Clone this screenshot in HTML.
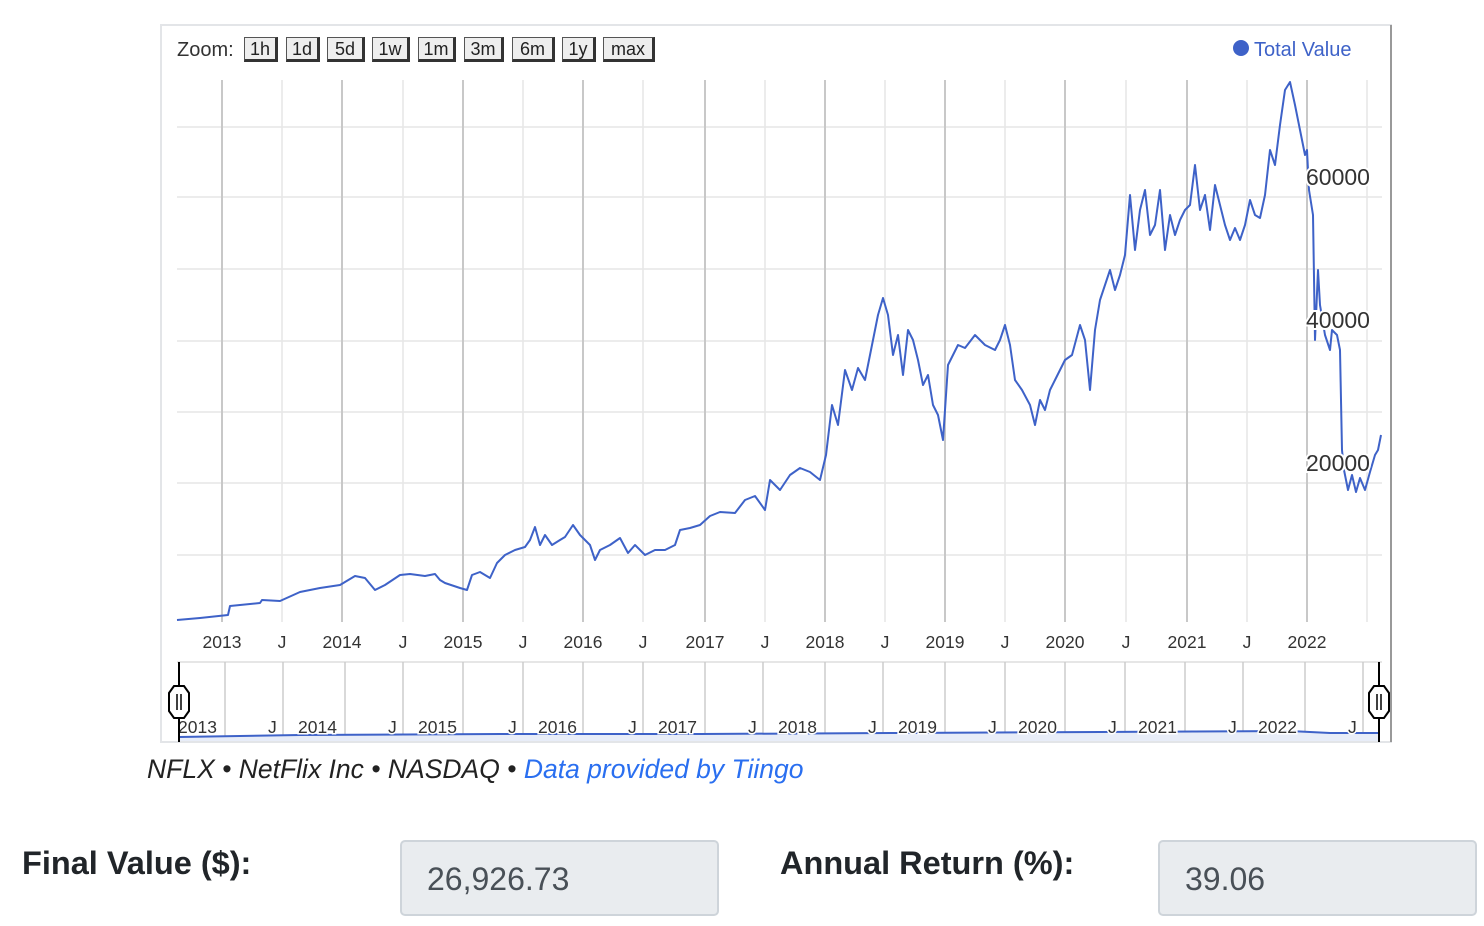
<!DOCTYPE html>
<html><head><meta charset="utf-8"><style>
body{margin:0;background:#fff;width:1484px;height:926px;overflow:hidden;font-family:"Liberation Sans",sans-serif;}
.lbl{position:absolute;font-weight:bold;font-size:32.5px;color:#212529;}
.box{position:absolute;background:#e9ecef;border:2px solid #ced4da;border-radius:5px;box-sizing:border-box;font-size:32px;color:#495057;padding-left:25px;line-height:74px;}
.cap{position:absolute;left:147px;top:754px;font-style:italic;font-size:26.5px;color:#222;}
.cap a{color:#2a6ff0;text-decoration:none;}
.bt{position:absolute;top:37px;height:25px;background:#eee;border:1px solid #555;border-right:3px solid #333;border-bottom:3px solid #333;box-sizing:border-box;font-size:18px;color:#222;text-align:center;line-height:22px;font-family:"Liberation Sans",sans-serif;}
</style></head><body>
<svg width="1484" height="760" style="position:absolute;left:0;top:0" font-family="Liberation Sans, sans-serif">
<rect x="161" y="25" width="1230" height="717" fill="#fff" stroke="#e3e5e8" stroke-width="2"/>
<line x1="1391" y1="25" x2="1391" y2="742" stroke="#999" stroke-width="2"/>
<text x="177" y="56" font-size="20" fill="#333">Zoom:</text>
<g stroke="#e6e6e6" stroke-width="1.5">
<line x1="177" y1="127" x2="1382" y2="127"/><line x1="177" y1="197" x2="1382" y2="197"/><line x1="177" y1="269" x2="1382" y2="269"/><line x1="177" y1="341" x2="1382" y2="341"/><line x1="177" y1="412" x2="1382" y2="412"/><line x1="177" y1="483" x2="1382" y2="483"/><line x1="177" y1="555" x2="1382" y2="555"/>
<line x1="282" y1="80" x2="282" y2="622"/><line x1="403" y1="80" x2="403" y2="622"/><line x1="523" y1="80" x2="523" y2="622"/><line x1="643" y1="80" x2="643" y2="622"/><line x1="765" y1="80" x2="765" y2="622"/><line x1="885" y1="80" x2="885" y2="622"/><line x1="1005" y1="80" x2="1005" y2="622"/><line x1="1126" y1="80" x2="1126" y2="622"/><line x1="1247" y1="80" x2="1247" y2="622"/><line x1="1367" y1="80" x2="1367" y2="622"/>
</g>
<g stroke="#c8c8c8" stroke-width="2">
<line x1="222" y1="80" x2="222" y2="622"/><line x1="342" y1="80" x2="342" y2="622"/><line x1="463" y1="80" x2="463" y2="622"/><line x1="583" y1="80" x2="583" y2="622"/><line x1="705" y1="80" x2="705" y2="622"/><line x1="825" y1="80" x2="825" y2="622"/><line x1="945" y1="80" x2="945" y2="622"/><line x1="1065" y1="80" x2="1065" y2="622"/><line x1="1187" y1="80" x2="1187" y2="622"/><line x1="1307" y1="80" x2="1307" y2="622"/>
</g>
<polyline fill="none" stroke="#3e62c8" stroke-width="2" stroke-linejoin="round" points="177,620 200,618 228,615 230,606 260,603 262,600 280,601 300,592 320,588 340,585 345,582 355,576 365,578 375,590 385,585 400,575 410,574 425,576 435,574 440,580 445,583 460,588 467,590 472,575 480,572 490,578 497,563 505,555 515,550 525,547 530,540 535,527 540,545 545,535 552,545 560,540 565,537 573,525 580,535 590,545 595,560 600,550 610,545 620,538 628,553 635,545 645,555 655,550 665,550 675,545 680,530 690,528 700,525 710,516 720,512 735,513 745,500 755,496 765,510 770,480 780,490 790,475 800,468 810,472 820,480 826,455 832,405 838,425 845,370 852,390 858,368 865,380 872,345 878,315 883,298 888,315 893,355 898,335 903,375 908,330 913,340 918,360 923,385 928,375 933,405 938,415 943,440 948,365 953,355 958,345 965,348 975,335 985,345 995,350 1000,340 1005,325 1010,345 1015,380 1022,390 1030,405 1035,425 1040,400 1045,410 1050,390 1055,380 1060,370 1065,360 1072,355 1080,325 1085,340 1090,390 1095,330 1100,300 1105,285 1110,270 1115,290 1120,275 1125,255 1130,195 1135,250 1140,210 1145,190 1150,235 1155,225 1160,190 1165,250 1170,215 1175,235 1180,220 1185,210 1190,205 1195,165 1200,210 1205,195 1210,230 1215,185 1220,205 1225,225 1230,240 1235,228 1240,240 1245,225 1250,200 1255,215 1260,218 1265,195 1270,150 1275,165 1280,125 1285,90 1290,82 1295,105 1300,130 1305,155 1307,150 1309,190 1313,215 1315,340 1318,270 1320,305 1325,335 1330,350 1332,330 1337,335 1340,350 1342,450 1344,470 1346,480 1348,490 1352,475 1356,492 1360,478 1365,490 1370,472 1375,455 1378,450 1381,435"/>
<g font-size="23" fill="#333" stroke="#fff" stroke-width="4" paint-order="stroke">
<text x="1306" y="185">60000</text><text x="1306" y="328">40000</text><text x="1306" y="471">20000</text>
</g>
<circle cx="1241" cy="48" r="8" fill="#3e62c8"/>
<text x="1254" y="56" font-size="20" fill="#3e62c8">Total Value</text>
<g font-size="17.5" fill="#333" text-anchor="middle">
<text x="222" y="648">2013</text><text x="282" y="648">J</text><text x="342" y="648">2014</text><text x="403" y="648">J</text><text x="463" y="648">2015</text><text x="523" y="648">J</text><text x="583" y="648">2016</text><text x="643" y="648">J</text><text x="705" y="648">2017</text><text x="765" y="648">J</text><text x="825" y="648">2018</text><text x="885" y="648">J</text><text x="945" y="648">2019</text><text x="1005" y="648">J</text><text x="1065" y="648">2020</text><text x="1126" y="648">J</text><text x="1187" y="648">2021</text><text x="1247" y="648">J</text><text x="1307" y="648">2022</text>
</g>
<line x1="177" y1="662" x2="1382" y2="662" stroke="#ddd" stroke-width="1.5"/>
<g stroke="#ccc" stroke-width="1.5">
<line x1="225" y1="662" x2="225" y2="741"/><line x1="283" y1="662" x2="283" y2="741"/><line x1="345" y1="662" x2="345" y2="741"/><line x1="403" y1="662" x2="403" y2="741"/><line x1="463" y1="662" x2="463" y2="741"/><line x1="523" y1="662" x2="523" y2="741"/><line x1="583" y1="662" x2="583" y2="741"/><line x1="643" y1="662" x2="643" y2="741"/><line x1="705" y1="662" x2="705" y2="741"/><line x1="763" y1="662" x2="763" y2="741"/><line x1="825" y1="662" x2="825" y2="741"/><line x1="883" y1="662" x2="883" y2="741"/><line x1="945" y1="662" x2="945" y2="741"/><line x1="1005" y1="662" x2="1005" y2="741"/><line x1="1065" y1="662" x2="1065" y2="741"/><line x1="1125" y1="662" x2="1125" y2="741"/><line x1="1185" y1="662" x2="1185" y2="741"/><line x1="1243" y1="662" x2="1243" y2="741"/><line x1="1305" y1="662" x2="1305" y2="741"/><line x1="1363" y1="662" x2="1363" y2="741"/>
</g>
<polygon points="179,737 300,735 500,734 700,734 900,733 1100,732 1290,731 1330,733 1379,733 1379,741 179,741" fill="#e8edf8"/>
<polyline fill="none" stroke="#3e62c8" stroke-width="2" points="179,737 300,735 500,734 700,734 900,733 1100,732 1290,731 1330,733 1379,733"/>
<g font-size="17.5" fill="#333" stroke="#fff" stroke-width="3" paint-order="stroke">
<text x="178" y="733">2013</text><text x="268" y="733">J</text><text x="298" y="733">2014</text><text x="388" y="733">J</text><text x="418" y="733">2015</text><text x="508" y="733">J</text><text x="538" y="733">2016</text><text x="628" y="733">J</text><text x="658" y="733">2017</text><text x="748" y="733">J</text><text x="778" y="733">2018</text><text x="868" y="733">J</text><text x="898" y="733">2019</text><text x="988" y="733">J</text><text x="1018" y="733">2020</text><text x="1108" y="733">J</text><text x="1138" y="733">2021</text><text x="1228" y="733">J</text><text x="1258" y="733">2022</text><text x="1348" y="733">J</text>
</g>
<line x1="179" y1="662" x2="179" y2="742" stroke="#000" stroke-width="2"/>
<line x1="1379" y1="662" x2="1379" y2="742" stroke="#000" stroke-width="2"/>
<polygon points="174,686 184,686 189,693 189,711 184,718 174,718 169,711 169,693" fill="#fff" stroke="#000" stroke-width="2"/>
<polygon points="1374,686 1384,686 1389,693 1389,711 1384,718 1374,718 1369,711 1369,693" fill="#fff" stroke="#000" stroke-width="2"/>
<g stroke="#000" stroke-width="1.5"><line x1="177" y1="694" x2="177" y2="710"/><line x1="181" y1="694" x2="181" y2="710"/><line x1="1377" y1="694" x2="1377" y2="710"/><line x1="1381" y1="694" x2="1381" y2="710"/></g>
</svg>
<div class="cap">NFLX • NetFlix Inc • NASDAQ • <a>Data provided by Tiingo</a></div>
<div class="lbl" style="left:22px;top:845px">Final Value ($):</div>
<div class="box" style="left:400px;top:840px;width:319px;height:76px">26,926.73</div>
<div class="lbl" style="left:780px;top:845px">Annual Return (%):</div>
<div class="box" style="left:1158px;top:840px;width:319px;height:76px">39.06</div>
<div class="bt" style="left:244px;width:34px">1h</div>
<div class="bt" style="left:286px;width:34px">1d</div>
<div class="bt" style="left:327px;width:38px">5d</div>
<div class="bt" style="left:372px;width:38px">1w</div>
<div class="bt" style="left:418px;width:38px">1m</div>
<div class="bt" style="left:464px;width:40px">3m</div>
<div class="bt" style="left:512px;width:43px">6m</div>
<div class="bt" style="left:562px;width:34px">1y</div>
<div class="bt" style="left:603px;width:52px">max</div>
</body></html>
